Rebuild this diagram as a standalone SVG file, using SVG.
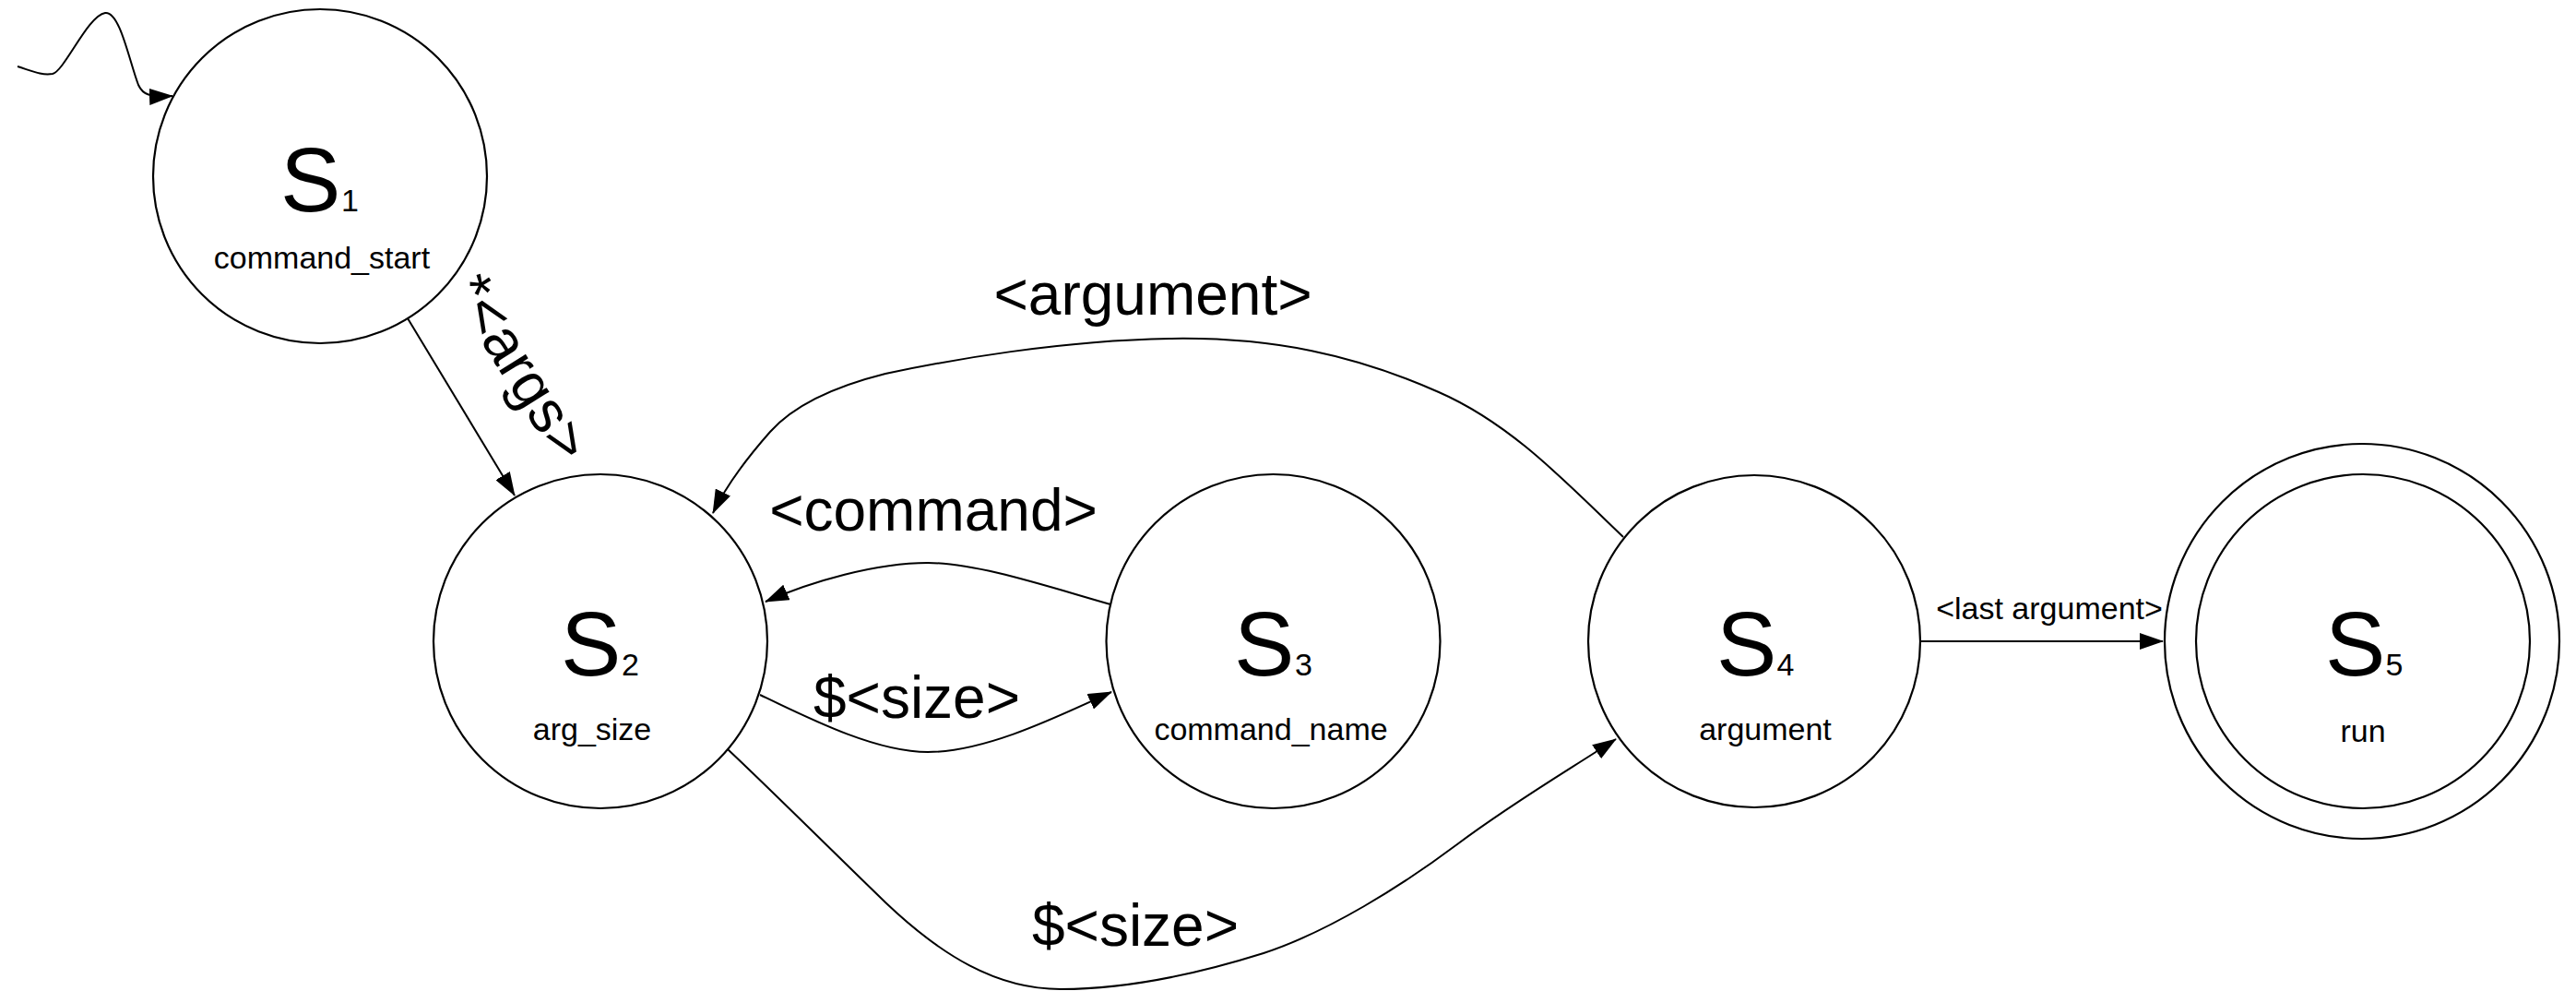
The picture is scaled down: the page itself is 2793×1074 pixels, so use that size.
<svg xmlns="http://www.w3.org/2000/svg" width="2793" height="1074" viewBox="0 0 2793 1074">
<style>
text{font-family:"Liberation Sans",Arial,Helvetica,sans-serif;fill:#000}
.big{font-size:98px}
.sub{font-size:34px}
.lbl{font-size:34px;text-anchor:middle}
.elbl{font-size:64px;text-anchor:middle}
.st{fill:#fff;stroke:#000;stroke-width:2.2}
.edge{fill:none;stroke:#000;stroke-width:2;marker-end:url(#arr)}
</style>
<defs>
<marker id="arr" markerUnits="userSpaceOnUse" viewBox="0 0 26 18" markerWidth="26" markerHeight="18" refX="25" refY="9" orient="auto">
<path d="M0,0 L26,9 L0,18 Z" fill="#000"/>
</marker>
</defs>
<rect width="2793" height="1074" fill="#fff"/>
<g id="connectors">
<path class="edge" d="M19,72 C35,77 45,82 57,80 C70,77 95,17 114,14 C130,12 140,66 150,92 C155,103 162,105 187,104"/>
<path class="edge" d="M442,345 L558,537"/>
<path class="edge" d="M1760,582 C1700,525 1640,460 1560,425 C1470,385 1380,365 1268,367 C1150,369 1030,390 960,405 C900,420 860,440 835,468 C812,494 788,525 773,556"/>
<path class="edge" d="M1204,655 C1140,637 1060,610 1006,610 C950,610 880,630 830,652"/>
<path class="edge" d="M824,753 C880,780 950,815 1006,815 C1070,815 1150,775 1205,750"/>
<path class="edge" d="M789,812 C840,860 900,920 960,978 C1020,1035 1080,1072 1150,1072 C1220,1072 1300,1055 1370,1033 C1440,1010 1520,960 1580,915 C1640,870 1700,835 1752,801"/>
<path class="edge" d="M2083,695 L2345,695"/>
<text class="elbl" transform="translate(561,401) rotate(58)" x="0" y="17">*&lt;args&gt;</text>
<text class="elbl" x="1250" y="341">&lt;argument&gt;</text>
<text class="elbl" x="1012" y="575">&lt;command&gt;</text>
<text class="elbl" x="994" y="778">$&lt;size&gt;</text>
<text class="elbl" x="1231" y="1025">$&lt;size&gt;</text>
<text class="lbl" x="2222" y="671">&lt;last argument&gt;</text>
</g>
<g id="s1">
<circle class="st" cx="347" cy="191" r="181"/>
<text class="big" x="304" y="228.5">S</text><text class="sub" x="370" y="228.5">1</text>
<text class="lbl" x="349" y="290.5">command_start</text>
</g>
<g id="s2">
<circle class="st" cx="651" cy="695" r="181"/>
<text class="big" x="608" y="731.5">S</text><text class="sub" x="674" y="731.5">2</text>
<text class="lbl" x="642" y="801.5">arg_size</text>
</g>
<g id="s3">
<circle class="st" cx="1380.5" cy="695" r="181"/>
<text class="big" x="1338" y="731.5">S</text><text class="sub" x="1404" y="731.5">3</text>
<text class="lbl" x="1378" y="801.5">command_name</text>
</g>
<g id="s4">
<circle class="st" cx="1902" cy="695" r="180"/>
<text class="big" x="1861" y="731.5">S</text><text class="sub" x="1926.5" y="731.5">4</text>
<text class="lbl" x="1914" y="801.5">argument</text>
</g>
<g id="s5">
<circle class="st" cx="2561" cy="695" r="214"/>
<circle class="st" cx="2562" cy="695" r="181"/>
<text class="big" x="2521" y="731.5">S</text><text class="sub" x="2586.5" y="731.5">5</text>
<text class="lbl" x="2562" y="804">run</text>
</g>
</svg>
